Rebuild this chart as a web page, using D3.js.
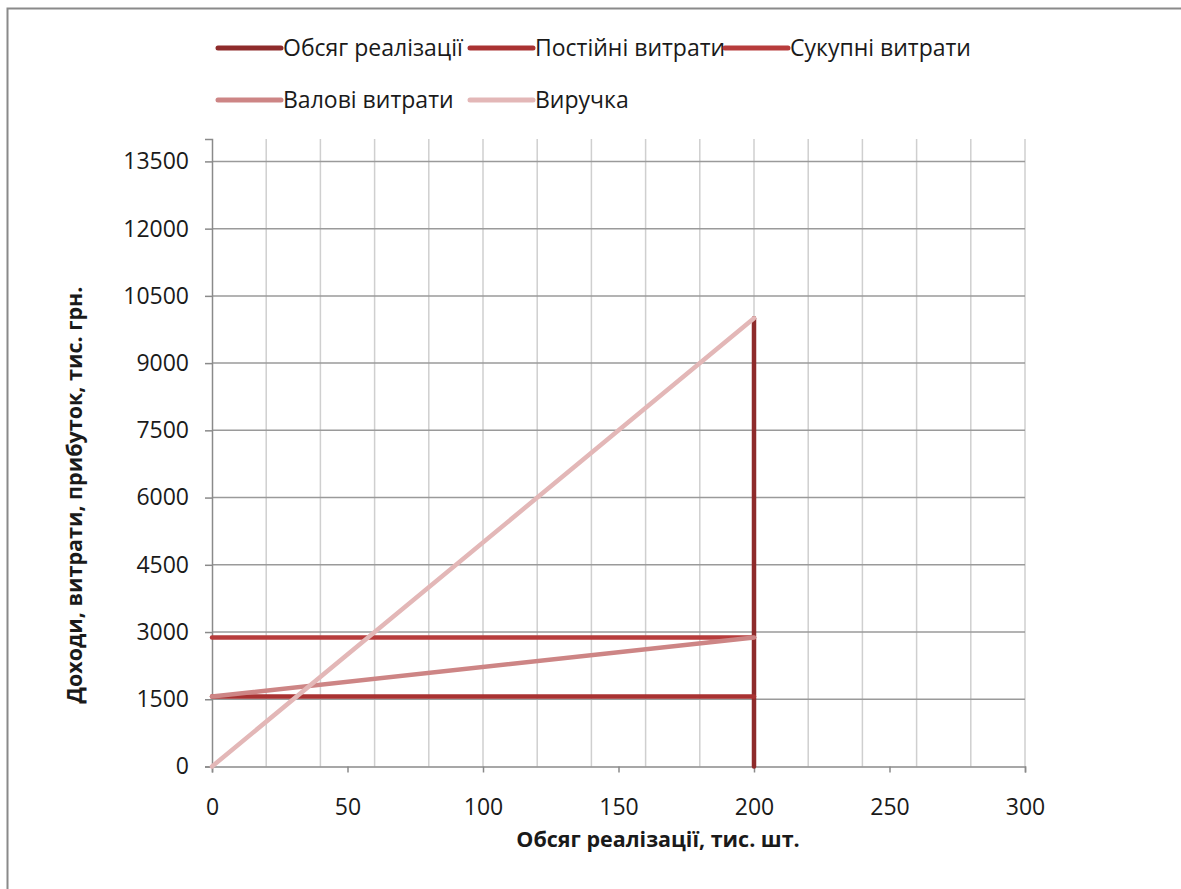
<!DOCTYPE html>
<html>
<head>
<meta charset="utf-8">
<script src="https://cdn.jsdelivr.net/npm/d3@7"></script>
<style>
  html, body { margin: 0; padding: 0; background: #fff; }
  svg { display: block; }
  text { font-family: "Open Sans", "Noto Sans", sans-serif; fill: #1a1a1a; }
</style>
</head>
<body>
<svg id="chart" width="1181" height="889"></svg>
<script>
// ---- data ----
const seriesNames = ["Обсяг реалізації", "Постійні витрати", "Сукупні витрати", "Валові витрати", "Виручка"];
const volumeX  = [200, 200];
const volumeY  = [0, 10000];
const fixedX   = [0, 200];
const fixedY   = [1560, 1560];
const totalX   = [0, 200];
const totalY   = [2880, 2880];
const grossX   = [0, 200];
const grossY   = [1560, 2880];
const revenueX = [0, 200];
const revenueY = [0, 10000];
const xTicks = [0, 50, 100, 150, 200, 250, 300];
const yTicks = [0, 1500, 3000, 4500, 6000, 7500, 9000, 10500, 12000, 13500];
const xGrid  = [20, 40, 60, 80, 100, 120, 140, 160, 180, 200, 220, 240, 260, 280, 300];
const xTitle = "Обсяг реалізації, тис. шт.";
const yTitle = "Доходи, витрати, прибуток, тис. грн.";

const colors = ["#8E2B2B", "#A93232", "#B73C3C", "#CD8585", "#E3B7B7"];

const svg = d3.select("#chart");

// outer chart frame (cropped on right and bottom)
svg.append("rect").attr("x", 7.5).attr("y", 8.5).attr("width", 1300).attr("height", 1000)
  .attr("fill", "#fff").attr("stroke", "#8a8a8a").attr("stroke-width", 2);

const x = d3.scaleLinear().domain([0, 300]).range([212, 1025]);
const y = d3.scaleLinear().domain([0, 14000]).range([766.5, 139]);

// vertical (minor) gridlines
svg.append("g").selectAll("line").data(xGrid).join("line")
  .attr("x1", d => x(d)).attr("x2", d => x(d))
  .attr("y1", y(14000)).attr("y2", y(0))
  .attr("stroke", "#cfcfcf").attr("stroke-width", 1.5);

// horizontal gridlines
svg.append("g").selectAll("line").data(yTicks.filter(d => d > 0)).join("line")
  .attr("x1", x(0)).attr("x2", x(300))
  .attr("y1", d => y(d)).attr("y2", d => y(d))
  .attr("stroke", "#9a9a9a").attr("stroke-width", 1.5);

// axes
const fontSize = 23;
const yAxis = svg.append("g").attr("transform", `translate(${x(0)},0)`)
  .call(d3.axisLeft(y).tickValues(yTicks).tickSize(7).tickPadding(16).tickFormat(d3.format("d")));
const xAxis = svg.append("g").attr("transform", `translate(0,${y(0)})`)
  .call(d3.axisBottom(x).tickValues(xTicks).tickSize(6).tickPadding(26).tickFormat(d3.format("d")));
[yAxis, xAxis].forEach(g => {
  g.select(".domain").attr("stroke", "#8a8a8a").attr("stroke-width", 1.5);
  g.selectAll(".tick line").attr("stroke", "#8a8a8a").attr("stroke-width", 1.5);
  g.selectAll(".tick text").attr("font-size", fontSize).attr("fill", "#1a1a1a")
    .attr("font-family", "'Open Sans', sans-serif");
});

// series lines
const line = d3.line().x(d => x(d[0])).y(d => y(d[1]));
const series = [
  [volumeX, volumeY],
  [fixedX, fixedY],
  [totalX, totalY],
  [grossX, grossY],
  [revenueX, revenueY]
];
series.forEach((s, i) => {
  const pts = s[0].map((v, k) => [v, s[1][k]]);
  svg.append("path").datum(pts).attr("d", line)
    .attr("fill", "none").attr("stroke", colors[i]).attr("stroke-width", 4.5)
    .attr("stroke-linecap", "round").attr("stroke-linejoin", "round");
});

// legend
const legendPos = [[218, 48], [470, 48], [725, 48], [218, 100], [470, 100]];
seriesNames.forEach((name, i) => {
  const [lx, ly] = legendPos[i];
  svg.append("line").attr("x1", lx).attr("x2", lx + 63).attr("y1", ly).attr("y2", ly)
    .attr("stroke", colors[i]).attr("stroke-width", 5).attr("stroke-linecap", "round");
  svg.append("text").attr("x", lx + 65).attr("y", ly).attr("dy", "0.35em")
    .attr("font-size", fontSize).text(name);
});

// axis titles
svg.append("text").attr("x", 658).attr("y", 847)
  .attr("text-anchor", "middle").attr("font-size", 21.5).attr("font-weight", "bold").text(xTitle);
svg.append("text").attr("transform", `translate(82,${495}) rotate(-90)`)
  .attr("text-anchor", "middle").attr("font-size", 21.5).attr("font-weight", "bold").text(yTitle);
</script>
</body>
</html>
